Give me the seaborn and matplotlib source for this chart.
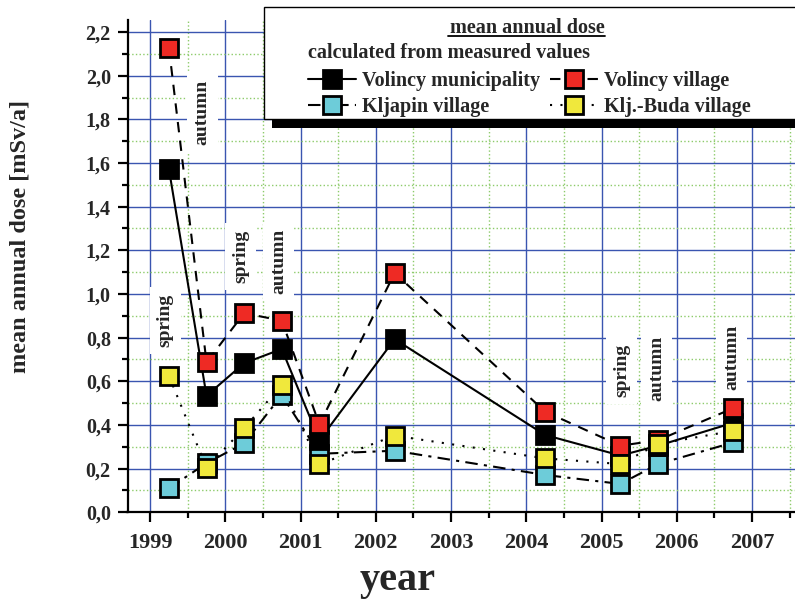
import matplotlib
matplotlib.use("Agg")
import matplotlib.pyplot as plt
import matplotlib.ticker as mticker
from matplotlib.lines import Line2D
from matplotlib.patches import Rectangle
import pandas as pd
import seaborn as sns

# sampling dates (spring ~ .25, autumn ~ .75)
years = [1999.25, 1999.75, 2000.25, 2000.75, 2001.25, 2002.25, 2004.25, 2005.25, 2005.75, 2006.75]

volincy_municipality = [1.573, 0.534, 0.683, 0.748, 0.330, 0.793, 0.354, 0.260, 0.305, 0.410]
volincy_village = [2.129, 0.687, 0.912, 0.878, 0.403, 1.096, 0.461, 0.305, 0.330, 0.477]
kljapin_village = [0.110, 0.225, 0.316, 0.537, 0.268, 0.282, 0.171, 0.130, 0.221, 0.320]
klj_buda_village = [0.625, 0.204, 0.385, 0.583, 0.220, 0.351, 0.247, 0.221, 0.313, 0.373]

series_names = ["Volincy municipality", "Volincy village", "Kljapin village", "Klj.-Buda village"]

W, H = 795, 599


def px(x, y):
    """pixel position (from top-left) -> figure fraction"""
    return x / W, 1 - y / H


df = pd.DataFrame({
    "year": years * 4,
    "dose": volincy_municipality + volincy_village + kljapin_village + klj_buda_village,
    "series": [n for n in series_names for _ in years],
})

sns.set_theme(style="white")
plt.rcParams["font.family"] = ["Liberation Serif", "DejaVu Serif"]
plt.rcParams["font.weight"] = "bold"

fig = plt.figure(figsize=(W / 100, H / 100), dpi=100)
ax = fig.add_axes([127.5 / W, (H - 512.3) / H, (W - 127.5) / W, (512.3 - 20) / H])

styles = {
    "Kljapin village": dict(face="#6DCCD9", ls=(0, (6, 3, 1.5, 3)), z=3),
    "Volincy municipality": dict(face="black", ls="-", z=4),
    "Volincy village": dict(face="#EE2A24", ls=(0, (5, 4)), z=5),
    "Klj.-Buda village": dict(face="#F0E83C", ls=(0, (1, 4)), z=6),
}

for name in ["Kljapin village", "Volincy municipality", "Volincy village", "Klj.-Buda village"]:
    st = styles[name]
    sns.lineplot(
        data=df[df["series"] == name], x="year", y="dose", ax=ax,
        color="black", linestyle=st["ls"], linewidth=1.5,
        marker="s", markersize=13, markerfacecolor=st["face"],
        markeredgecolor="black", markeredgewidth=2,
        label=name, legend=False, zorder=st["z"],
    )

# season notes
notes = [("spring", 1999.2, 0.88), ("autumn", 1999.69, 1.83),
         ("spring", 2000.2, 1.17), ("autumn", 2000.71, 1.15),
         ("spring", 2005.27, 0.65), ("autumn", 2005.73, 0.66),
         ("autumn", 2006.73, 0.71)]
for txt, xx, yy in notes:
    ax.text(xx, yy, txt, rotation=90, ha="center", va="center", fontsize=14,
            fontweight="bold", zorder=2.5,
            bbox=dict(facecolor="white", edgecolor="none", pad=5))

ax.set_xlim(1998.7, 2007.57)
ax.set_ylim(0, 2.255)
ax.xaxis.set_major_locator(mticker.MultipleLocator(1))
ax.xaxis.set_minor_locator(mticker.MultipleLocator(0.5))
ax.yaxis.set_major_locator(mticker.MultipleLocator(0.2))
ax.yaxis.set_minor_locator(mticker.MultipleLocator(0.1))
ax.xaxis.set_major_formatter(mticker.FuncFormatter(lambda v, _: f"{v:.0f}"))
ax.yaxis.set_major_formatter(mticker.FuncFormatter(lambda v, _: f"{v:.1f}".replace(".", ",")))

ax.set_axisbelow(True)
ax.grid(which="major", color="#3A55B0", linewidth=1.0, linestyle="-")
ax.grid(which="minor", color="#8DCB6A", linewidth=1.0, linestyle=":")

for s in ["top", "right"]:
    ax.spines[s].set_visible(False)
for s in ["left", "bottom"]:
    ax.spines[s].set_linewidth(1.6)
    ax.spines[s].set_color("black")

ax.tick_params(which="both", direction="out", width=1.6, color="black",
               left=True, bottom=True)
ax.tick_params(which="major", length=7)
ax.tick_params(which="minor", length=4)
ax.tick_params(axis="x", labelsize=16, pad=8)
ax.tick_params(axis="y", labelsize=14.5, pad=5)
for lab in ax.get_xticklabels() + ax.get_yticklabels():
    lab.set_fontweight("bold")

ax.set_xlabel("year", fontsize=29, fontweight="bold")
ax.set_ylabel("mean annual dose [mSv/a]", fontsize=17.5, fontweight="bold")
ax.xaxis.set_label_coords(0.405, -0.1)
ax.yaxis.set_label_coords(-0.146, 0.561)

# legend box with black shadow
fig.add_artist(Rectangle(px(272, 128), (W + 20 - 272) / W, 113 / H,
                         transform=fig.transFigure, facecolor="black",
                         edgecolor="none", zorder=3))
fig.add_artist(Rectangle(px(264, 119), (W + 20 - 264) / W, 112 / H,
                         transform=fig.transFigure, facecolor="white",
                         edgecolor="black", linewidth=1, zorder=4))
fig.text(*px(527, 33), "mean annual dose", ha="center", va="baseline",
         fontsize=14.5, fontweight="bold", zorder=6)
fig.add_artist(Line2D([448 / W, 605 / W], [1 - 36 / H, 1 - 36 / H],
                      transform=fig.transFigure, color="black", lw=1.3, zorder=6))
fig.text(*px(308, 58), "calculated from measured values", ha="left", va="baseline",
         fontsize=14.5, fontweight="bold", zorder=6)

handles, labels = ax.get_legend_handles_labels()
order = ["Volincy municipality", "Kljapin village", "Volincy village", "Klj.-Buda village"]
hmap = dict(zip(labels, handles))
leg = fig.legend([hmap[n] for n in order], order, loc="upper left",
                 bbox_to_anchor=px(308, 71), ncol=2, frameon=False,
                 prop=dict(size=14.5, weight="bold"), handlelength=2.4,
                 handletextpad=0.3, columnspacing=0.45, labelspacing=0.3,
                 borderpad=0, borderaxespad=0, numpoints=1)
leg.set_zorder(6)

fig.savefig("out.png", dpi=100)
